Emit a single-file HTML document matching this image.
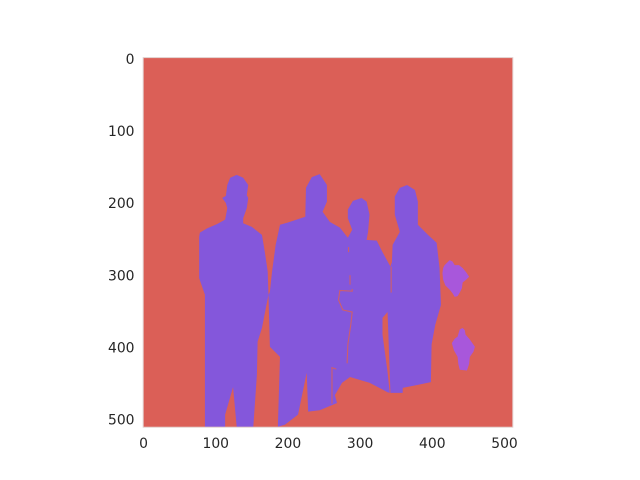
<!DOCTYPE html>
<html lang="en">
<head>
<meta charset="utf-8">
<title>Segmentation mask chart</title>
<style>
  html, body { margin: 0; padding: 0; background: #ffffff; }
  svg { display: block; }
  text { font-family: "DejaVu Sans", "Liberation Sans", sans-serif; font-size: 13.9px; fill: #262626; }
</style>
</head>
<body>
<svg id="chart" xmlns="http://www.w3.org/2000/svg" width="640" height="480" viewBox="0 0 640 480"></svg>
<script>
// Tick labels, in image pixel units
const xTicks = [0, 100, 200, 300, 400, 500];
const yTicks = [0, 100, 200, 300, 400, 500];
// Image size shown on the axes
const imageWidth = 512;
const imageHeight = 512;

// Class colours
const backgroundColor = "#db5f57";
const peopleColor = "#8457db";
const objectColor = "#a857db";

// Region outlines as [column, row] in image coordinates
const personOne = [[85,511],[85,328],[77,305],[77,248],[78,242],[88,236],[102,230],[113,224],[116,208],[114,201],[109,194],[114,191],[116,176],[120,166],[129,162],[138,166],[145,176],[143,190],[145,194],[143,208],[138,222],[138,229],[150,234],[164,245],[168,269],[172,296],[173,328],[164,374],[158,393],[157,439],[152,511],[129,511],[124,456],[113,494],[113,511]];
const peopleGroup = [[173,328],[175,324],[178,296],[183,259],[189,231],[200,228],[224,220],[225,180],[233,165],[244,161],[254,176],[254,199],[248,213],[258,227],[272,235],[283,249],[289,238],[283,222],[283,210],[290,198],[302,194],[309,199],[313,217],[311,241],[309,252],[323,253],[331,269],[342,289],[344,283],[345,259],[355,241],[348,217],[348,192],[355,180],[365,176],[376,183],[380,199],[380,231],[394,245],[406,256],[410,291],[412,342],[404,370],[399,397],[398,449],[379,453],[359,457],[359,464],[341,464],[338,463],[313,450],[286,442],[275,450],[265,467],[268,478],[244,488],[228,490],[226,436],[214,494],[196,508],[186,511],[189,414],[175,400]];
const upperObject = [[420,284],[424,280],[428,282],[431,287],[437,287],[442,291],[447,297],[451,303],[447,307],[442,311],[441,319],[438,325],[435,330],[431,331],[428,326],[424,321],[418,315],[415,307],[414,298],[415,291],[417,287]];
const lowerObject = [[438,376],[442,374],[445,377],[446,383],[452,390],[459,400],[457,407],[452,414],[451,424],[448,433],[438,432],[436,424],[435,414],[430,405],[427,395],[431,389],[435,386]];
const gapSliver = [[338,352],[331,360],[331,383],[338,435],[341,464],[342,464],[340,407]];

// Thin background-coloured seams inside the people region
const seamCurve = [[289,320],[289,323],[272,322],[270,335],[276,349],[289,352],[287,370],[283,397],[282,423]];
const seamFlag = [[267,431],[261,429],[261,479]];
const seamPeopleGap = [[343,289],[343,325]];
const seamDashUpper = [[284,262],[284,269]];
const seamDashLower = [[286,301],[286,314]];

// Axes frame in screen pixels
const axLeft = 143.2, axTop = 57.6, axSize = 369.6;
const NS = "http://www.w3.org/2000/svg";
const svg = document.getElementById("chart");

function xScale(v) { return axLeft + (v + 0.5) * axSize / imageWidth; }
function yScale(v) { return axTop + (v + 0.5) * axSize / imageHeight; }
function pointsAttr(pts) {
  return pts.map(function (p) { return xScale(p[0]).toFixed(2) + "," + yScale(p[1]).toFixed(2); }).join(" ");
}
function make(tag, attrs) {
  const el = document.createElementNS(NS, tag);
  for (const k in attrs) { el.setAttribute(k, attrs[k]); }
  svg.appendChild(el);
  return el;
}

const bg = make("rect", { x: axLeft, y: axTop, width: axSize, height: axSize, fill: backgroundColor });



const p1 = make("polygon", { points: pointsAttr(personOne), fill: peopleColor });



const p2 = make("polygon", { points: pointsAttr(peopleGroup), fill: peopleColor });



const o1 = make("polygon", { points: pointsAttr(upperObject), fill: objectColor });



const o2 = make("polygon", { points: pointsAttr(lowerObject), fill: objectColor });



const sliver = make("polygon", { points: pointsAttr(gapSliver), fill: backgroundColor });



const seamStyle = { fill: "none", stroke: backgroundColor, "stroke-width": 1.1, "stroke-opacity": 0.85 };
const s1 = make("polyline", Object.assign({ points: pointsAttr(seamCurve) }, seamStyle));


const s2 = make("polyline", Object.assign({ points: pointsAttr(seamFlag) }, seamStyle));


const s3 = make("polyline", Object.assign({ points: pointsAttr(seamPeopleGap) }, seamStyle));


const s4 = make("polyline", Object.assign({ points: pointsAttr(seamDashUpper) }, seamStyle));


const s5 = make("polyline", Object.assign({ points: pointsAttr(seamDashLower) }, seamStyle));



const frame = make("rect", { x: axLeft, y: axTop, width: axSize, height: axSize, fill: "none", stroke: "#e2cfce", "stroke-width": 1 });



xTicks.forEach(function (t) {
  const label = make("text", { x: xScale(t), y: 448, "text-anchor": "middle" });
  label.textContent = String(t);
  
  
});
yTicks.forEach(function (t) {
  const label = make("text", { x: 134.5, y: yScale(t) + 5.8, "text-anchor": "end" });
  label.textContent = String(t);
  
  
});
</script>
</body>
</html>
